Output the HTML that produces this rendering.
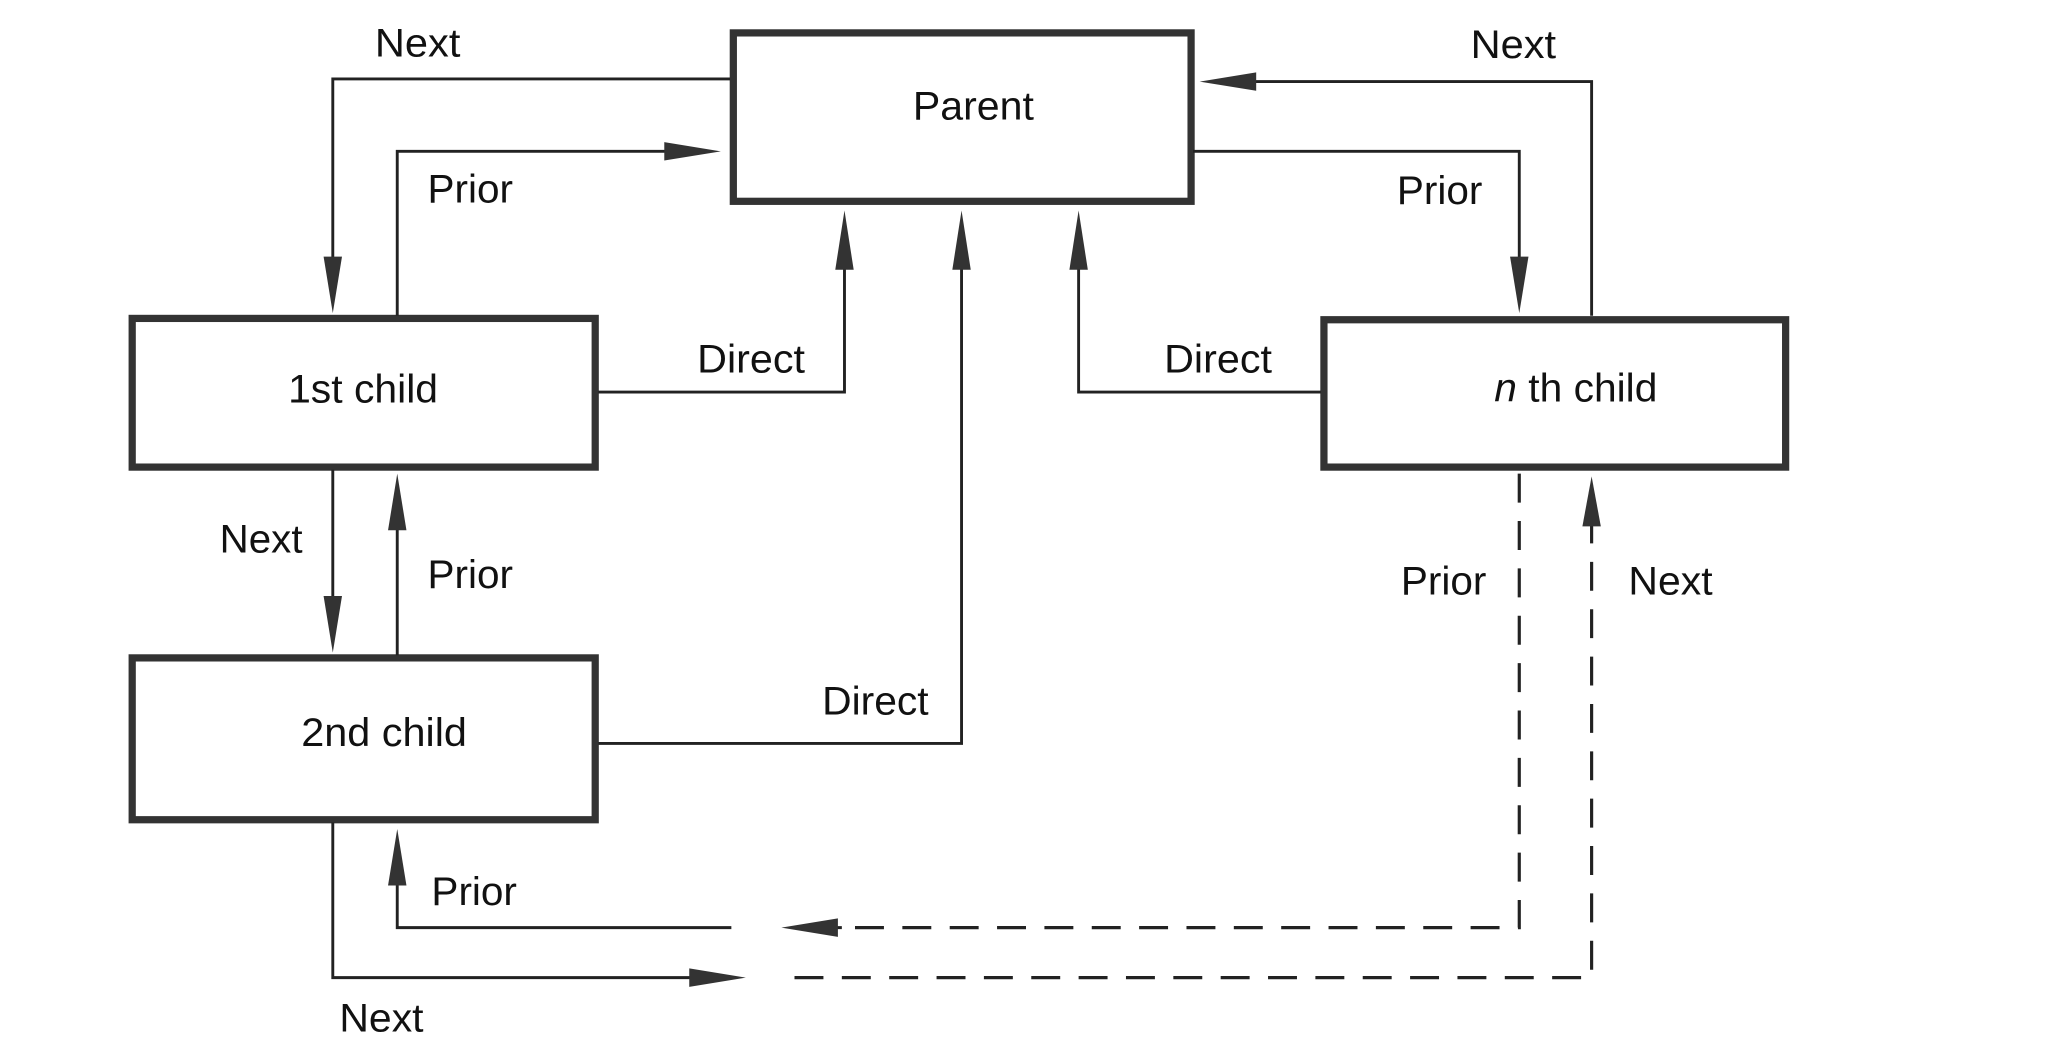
<!DOCTYPE html>
<html><head><meta charset="utf-8"><style>
html,body{margin:0;padding:0;background:#fff;}
svg{display:block;}
text{font-family:"Liberation Sans",sans-serif;font-size:30px;fill:#111;}
</style></head><body>
<svg width="2052" height="1050" viewBox="0 0 1560 798" preserveAspectRatio="none" xmlns="http://www.w3.org/2000/svg">
<g fill="none" stroke="#333" stroke-width="5.5">
<rect x="557.5" y="25" width="348" height="128"/>
<rect x="100.5" y="242" width="352" height="113"/>
<rect x="100.5" y="500" width="352" height="123"/>
<rect x="1006.5" y="243" width="351" height="112"/>
</g>
<g fill="none" stroke="#222" stroke-width="2.2">
<polyline points="555,60 253,60 253,215"/>
<polyline points="302,240 302,115 520,115"/>
<polyline points="455,298 642,298 642,185"/>
<polyline points="455,565 731,565 731,185"/>
<polyline points="1004,298 820,298 820,185"/>
<polyline points="1210,240 1210,62 937,62"/>
<polyline points="907,115 1155,115 1155,215"/>
<line x1="253" y1="357" x2="253" y2="470"/>
<line x1="302" y1="498" x2="302" y2="385"/>
<polyline points="302,655 302,705 556,705"/>
<polyline points="253,625 253,743 540,743"/>
<line x1="620" y1="705" x2="640" y2="705"/>
</g>
<g fill="none" stroke="#222" stroke-width="2.4" stroke-dasharray="22,14">
<polyline points="650,705 1155,705 1155,357"/>
<polyline points="604,743 1210,743 1210,395"/>
</g>
<g fill="#333">
<polygon points="253,238 246,195 260,195"/>
<polygon points="548,115 505,108 505,122"/>
<polygon points="642,160 635,205 649,205"/>
<polygon points="731,160 724,205 738,205"/>
<polygon points="820,160 813,205 827,205"/>
<polygon points="912,62 955,55 955,69"/>
<polygon points="1155,238 1148,195 1162,195"/>
<polygon points="253,496 246,453 260,453"/>
<polygon points="302,360 295,403 309,403"/>
<polygon points="302,630 295,673 309,673"/>
<polygon points="594,705 637,698 637,712"/>
<polygon points="567,743 524,736 524,750"/>
<polygon points="1210,362 1203,400 1217,400"/>
</g>
<g font-size="30">
<text x="740" y="91" text-anchor="middle" textLength="92" lengthAdjust="spacingAndGlyphs">Parent</text>
<text x="276" y="306" text-anchor="middle" textLength="114" lengthAdjust="spacingAndGlyphs">1st child</text>
<text x="292" y="567" text-anchor="middle" textLength="126" lengthAdjust="spacingAndGlyphs">2nd child</text>
<text x="1198" y="305" text-anchor="middle" textLength="124" lengthAdjust="spacingAndGlyphs"><tspan font-style="italic">n</tspan> th child</text>
<text x="285" y="43" textLength="65" lengthAdjust="spacingAndGlyphs">Next</text>
<text x="325" y="154" textLength="65" lengthAdjust="spacingAndGlyphs">Prior</text>
<text x="530" y="283" textLength="82" lengthAdjust="spacingAndGlyphs">Direct</text>
<text x="625" y="543" textLength="81" lengthAdjust="spacingAndGlyphs">Direct</text>
<text x="885" y="283" textLength="82" lengthAdjust="spacingAndGlyphs">Direct</text>
<text x="1118" y="44" textLength="65" lengthAdjust="spacingAndGlyphs">Next</text>
<text x="1062" y="155" textLength="65" lengthAdjust="spacingAndGlyphs">Prior</text>
<text x="167" y="420" textLength="63" lengthAdjust="spacingAndGlyphs">Next</text>
<text x="325" y="447" textLength="65" lengthAdjust="spacingAndGlyphs">Prior</text>
<text x="328" y="688" textLength="65" lengthAdjust="spacingAndGlyphs">Prior</text>
<text x="258" y="784" textLength="64" lengthAdjust="spacingAndGlyphs">Next</text>
<text x="1065" y="452" textLength="65" lengthAdjust="spacingAndGlyphs">Prior</text>
<text x="1238" y="452" textLength="64" lengthAdjust="spacingAndGlyphs">Next</text>
</g>
</svg>
</body></html>
